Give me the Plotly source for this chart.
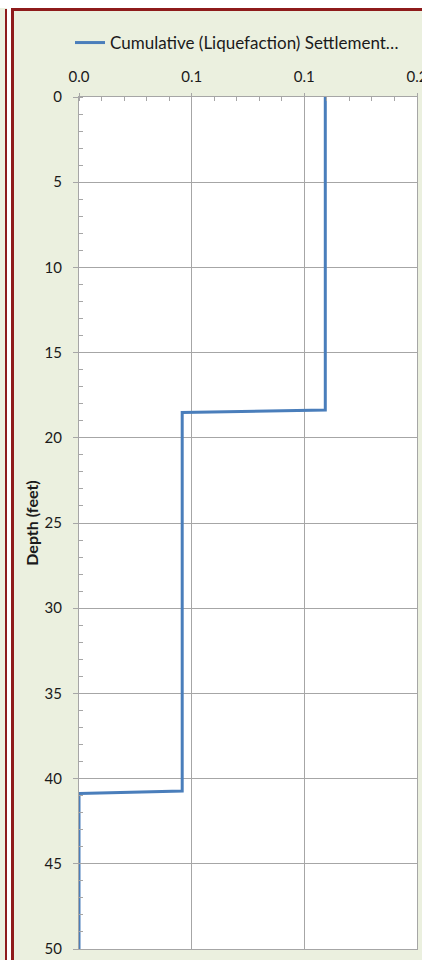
import plotly.graph_objects as go

# ---- data ----
series_name = "Cumulative (Liquefaction) Settlement…"
depth_ft = [0.0, 18.37, 18.52, 40.73, 40.88, 50.0]
settlement = [0.1093, 0.1093, 0.0458, 0.0458, 0.0, 0.0]
x_tickvals = [0.0, 0.05, 0.10, 0.15]
x_ticktext = ["0.0", "0.1", "0.1", "0.2"]
y_tickvals = [0, 5, 10, 15, 20, 25, 30, 35, 40, 45, 50]
y_title = "Depth (feet)"

# ---- layout geometry (pixels) ----
W, H = 422, 960
L, R, T, B = 79, 417, 97, 949
pw, ph = R - L, B - T

def px(x):
    return (x - L) / pw

def py(y):
    return (B - y) / ph

BG = "#EBF0DF"
RED = "#8E1B1B"
GRID = "#A6A6A6"
FONT = "Lato"

fig = go.Figure()
fig.add_trace(go.Scatter(
    x=settlement, y=depth_ft, mode="lines", name=series_name,
    line=dict(color="#4A7EBB", width=3), showlegend=True,
))

shapes = [
    dict(type="rect", xref="paper", yref="paper", x0=px(-5), x1=px(430), y0=py(8), y1=py(-5),
         fillcolor="white", line=dict(width=0), layer="below"),
    dict(type="rect", xref="paper", yref="paper", x0=px(7), x1=px(11), y0=py(970), y1=py(-5),
         fillcolor="white", line=dict(width=0), layer="below"),
    dict(type="line", xref="paper", yref="paper", x0=px(6), x1=px(6), y0=py(9), y1=py(970),
         line=dict(color=RED, width=2), layer="below"),
    dict(type="line", xref="paper", yref="paper", x0=px(12.5), x1=px(12.5), y0=py(9.5), y1=py(970),
         line=dict(color=RED, width=3), layer="below"),
    dict(type="line", xref="paper", yref="paper", x0=px(11), x1=px(430), y0=py(9.5), y1=py(9.5),
         line=dict(color=RED, width=3), layer="below"),
]

fig.update_layout(
    width=W, height=H,
    margin=dict(l=L, r=W - R, t=T, b=H - B, autoexpand=False),
    paper_bgcolor=BG, plot_bgcolor="white",
    font=dict(family=FONT, size=15, color="#1a1a1a"),
    shapes=shapes,
    showlegend=True,
    legend=dict(orientation="h", x=px(70), xanchor="left", y=py(43), yanchor="middle",
                bgcolor="rgba(0,0,0,0)", font=dict(size=17, family=FONT),
                itemwidth=30, tracegroupgap=0),
)

fig.update_xaxes(
    side="top", range=[0, 0.15000001], tickvals=x_tickvals, ticktext=x_ticktext,
    showgrid=True, gridcolor=GRID, gridwidth=1,
    showline=True, linecolor=GRID, linewidth=1, mirror=True,
    ticks="outside", ticklen=3, tickcolor=GRID, ticklabelstandoff=5,
    ticklabeloverflow="allow", automargin=False,
    minor=dict(dtick=0.01, ticks="inside", ticklen=4, tickcolor=GRID, showgrid=False),
    zeroline=False, fixedrange=True,
)
fig.update_yaxes(
    range=[50, 0], tickvals=y_tickvals, automargin=False,
    showgrid=True, gridcolor=GRID, gridwidth=1,
    showline=True, linecolor=GRID, linewidth=1, mirror=True,
    ticks="outside", ticklen=5, tickcolor=GRID, ticklabelstandoff=8,
    minor=dict(dtick=1, ticks="inside", ticklen=4, tickcolor=GRID, showgrid=False),
    title=dict(text="<b>" + y_title + "</b>", font=dict(size=16, family=FONT), standoff=1),
    zeroline=False, fixedrange=True,
)

fig.write_html(
    "out.html",
    config={"displayModeBar": False},
    post_script="document.body.style.margin='0';document.body.style.overflow='hidden';",
)
